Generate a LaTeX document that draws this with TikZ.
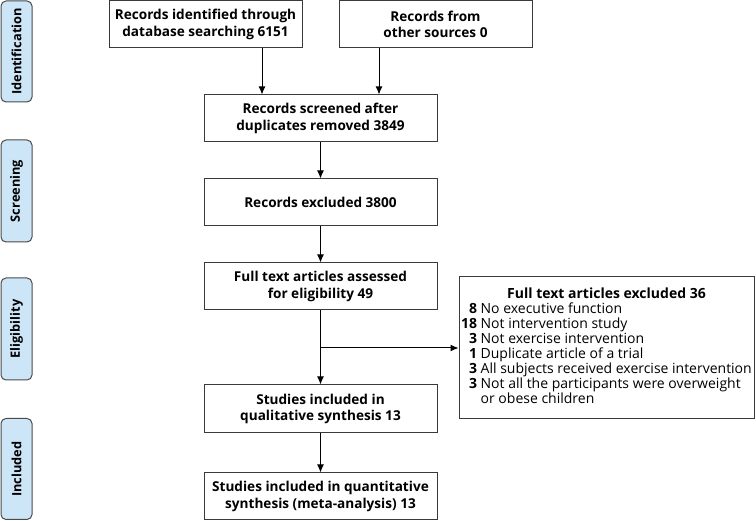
\documentclass[tikz,border=0pt]{standalone}
\usepackage{fontspec}
\setmainfont{Open Sans}
\usetikzlibrary{arrows.meta}
\definecolor{sidefill}{HTML}{CDE6F7}
\definecolor{sidedraw}{HTML}{4A4A4A}
\definecolor{boxdraw}{HTML}{3A3A3A}
\begin{document}
\begin{tikzpicture}[x=1pt,y=-1pt,
  flowbox/.style={draw=boxdraw,line width=1pt,fill=white,align=center,inner sep=2pt,
    font=\fontsize{13.6}{16.5}\selectfont\bfseries},
  sidebox/.style={draw=sidedraw,line width=1pt,fill=sidefill,rounded corners=5pt,
    minimum width=31pt,inner sep=0pt},
  sidetext/.style={rotate=90,font=\fontsize{12.8}{15}\selectfont\bfseries},
  conn/.style={line width=1pt,-{Latex[length=8pt,width=7pt]}}]
\useasboundingbox (0,0) rectangle (756,521);
% side labels
\node[sidebox,minimum height=101pt] (sid) at (16.5,51.5) {};
\node[sidetext] (sidt) at (sid.center) {Identification};
\node[sidebox,minimum height=102pt] (ssc) at (16.5,191) {};
\node[sidetext] (ssct) at (ssc.center) {Screening};
\node[sidebox,minimum height=102pt] (sel) at (16.5,329) {};
\node[sidetext] (selt) at (sel.center) {Eligibility};
\node[sidebox,minimum height=101pt] (sin) at (16.5,469) {};
\node[sidetext] (sint) at (sin.center) {Included};
% flow boxes
\node[flowbox,minimum width=193pt,minimum height=47pt] (b1) at (205.5,24.5) {Records identified through\\database searching 6151};
\node[flowbox,minimum width=193pt,minimum height=47pt] (b2) at (435.5,24.5) {Records from\\other sources 0};
\node[flowbox,minimum width=233pt,minimum height=47pt] (b3) at (320.5,118.5) {Records screened after\\duplicates removed 3849};
\node[flowbox,minimum width=233pt,minimum height=47pt] (b4) at (320.5,202.5) {Records excluded 3800};
\node[flowbox,minimum width=233pt,minimum height=47pt] (b5) at (320.5,286.5) {Full text articles assessed\\for eligibility 49};
\node[flowbox,minimum width=233pt,minimum height=48pt] (b7) at (320.5,409) {Studies included in\\qualitative synthesis 13};
\node[flowbox,minimum width=233pt,minimum height=47pt] (b8) at (320.5,496.5) {Studies included in quantitative\\synthesis (meta-analysis) 13};
\node[draw=boxdraw,line width=1pt,fill=white,minimum width=295pt,minimum height=142pt,inner sep=0pt,
  font=\fontsize{14}{14.5}\selectfont] (r) at (606.5,348) {%
  \begin{tabular}{@{}r@{\hspace{3.5pt}}l@{}}
  \multicolumn{2}{c}{\bfseries Full text articles excluded 36}\\
  \bfseries 8 & No executive function\\
  \bfseries 18 & Not intervention study\\
  \bfseries 3 & Not exercise intervention\\
  \bfseries 1 & Duplicate article of a trial\\
  \bfseries 3 & All subjects received exercise intervention\\
  \bfseries 3 & Not all the participants were overweight\\
   & or obese children
  \end{tabular}};
% connectors
\coordinate (j) at (320.5,348);
\draw[conn] (b1.south -| 262,0) -- (b3.north -| 262,0);
\draw[conn] (b2.south -| 379,0) -- (b3.north -| 379,0);
\draw[conn] (b3) -- (b4);
\draw[conn] (b4) -- (b5);
\draw[conn] (b5) -- (b7);
\draw[conn] (b7) -- (b8);
\draw[conn] (j) -- (r.west |- j);
\end{tikzpicture}
\end{document}
